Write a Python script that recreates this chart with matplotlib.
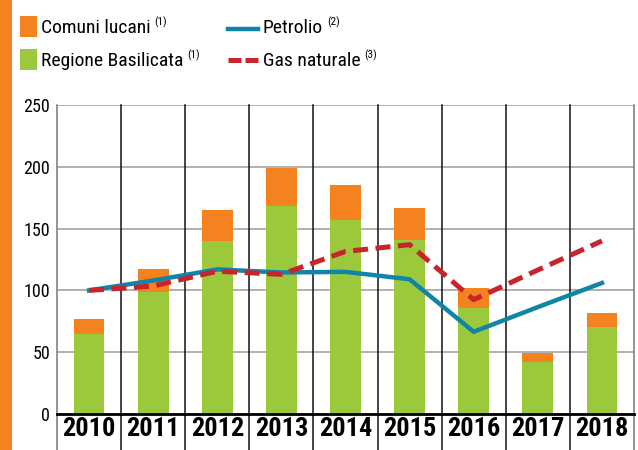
import matplotlib
matplotlib.use("Agg")
import matplotlib.pyplot as plt
import numpy as np
from matplotlib.patches import Rectangle
from matplotlib.lines import Line2D

years = ["2010", "2011", "2012", "2013", "2014", "2015", "2016", "2017", "2018"]
regione = [65, 99, 140, 168, 157, 141, 86, 42, 70]
comuni = [12, 18, 25, 31, 28, 26, 16, 7, 12]
petrolio = [100, 108, 117, 114.5, 115, 109, 66.5, 86.5, 106]
gas = [100, 103.5, 115.5, 113, 131.5, 137, 92.5, 116.5, 140]

ORANGE = "#F4821F"
GREEN = "#9BC93B"
BLUE = "#1185A8"
RED = "#C8242B"

plt.rcParams["font.family"] = ["Roboto Condensed", "DejaVu Sans"]

fig = plt.figure(figsize=(6.38, 4.5), dpi=100)
ax = fig.add_axes([0.0893, 0.08, 0.9044, 0.6867])

x = np.arange(len(years))
ax.bar(x, regione, width=0.48, color=GREEN, zorder=3)
ax.bar(x, comuni, width=0.48, bottom=regione, color=ORANGE, zorder=3)
ax.plot(x, petrolio, color=BLUE, lw=3.2, zorder=4)
ax.plot(x, gas, color=RED, lw=3.6, dashes=(3, 1.5), zorder=5)

ax.set_xlim(-0.5, len(years) - 0.5)
ax.set_ylim(0, 250)
ax.set_yticks([0, 50, 100, 150, 200, 250])
ax.yaxis.grid(True, color="#aaaaaa", lw=1.3, zorder=1)
ax.tick_params(axis="y", length=0, labelsize=13, pad=5)
ax.tick_params(axis="x", length=0, labelsize=19, pad=2)
ax.set_xticks(x)
ax.set_xticklabels(years, fontweight="bold")

for s in ["left", "right", "top"]:
    ax.spines[s].set_visible(False)
ax.spines["bottom"].set_linewidth(2)
ax.spines["bottom"].set_zorder(6)

# category separators, running down through the year labels
for b in np.arange(len(years) + 1) - 0.5:
    col = "#111111" if 0 < b + 0.5 < len(years) else "#777777"
    ax.plot([b, b], [-0.12, 1], transform=ax.get_xaxis_transform(),
            color=col, lw=1.1, clip_on=False, zorder=2)

# orange strip on the left edge
fig.add_artist(Rectangle((0, 0), 12 / 638, 1, transform=fig.transFigure,
                         color=ORANGE, lw=0))

# legend
W, H = 638, 450
fig.canvas.draw()
r = fig.canvas.get_renderer()


def label(xp, yp, text, sup):
    t = fig.text(xp / W, 1 - yp / H, text, fontsize=14, va="center", ha="left")
    bb = t.get_window_extent(r)
    fig.text(bb.x1 / W + 4 / W, 1 - (yp - 6) / H, sup, fontsize=8,
             va="center", ha="left")


fig.add_artist(Rectangle((20 / W, 1 - 37 / H), 17 / W, 21 / H,
                         transform=fig.transFigure, color=ORANGE, lw=0))
fig.add_artist(Rectangle((20 / W, 1 - 70 / H), 17 / W, 21 / H,
                         transform=fig.transFigure, color=GREEN, lw=0))
label(41, 28, "Comuni lucani", "(1)")
label(41, 61, "Regione Basilicata", "(1)")
fig.add_artist(Line2D([228 / W, 258 / W], [1 - 29 / H] * 2,
                      transform=fig.transFigure, color=BLUE, lw=3.2))
fig.add_artist(Line2D([228 / W, 258 / W], [1 - 60 / H] * 2,
                      transform=fig.transFigure, color=RED, lw=3.6,
                      dashes=(2.6, 0.8)))
label(263, 28, "Petrolio", "(2)")
label(263, 61, "Gas naturale", "(3)")

fig.savefig("out.png", dpi=100)
